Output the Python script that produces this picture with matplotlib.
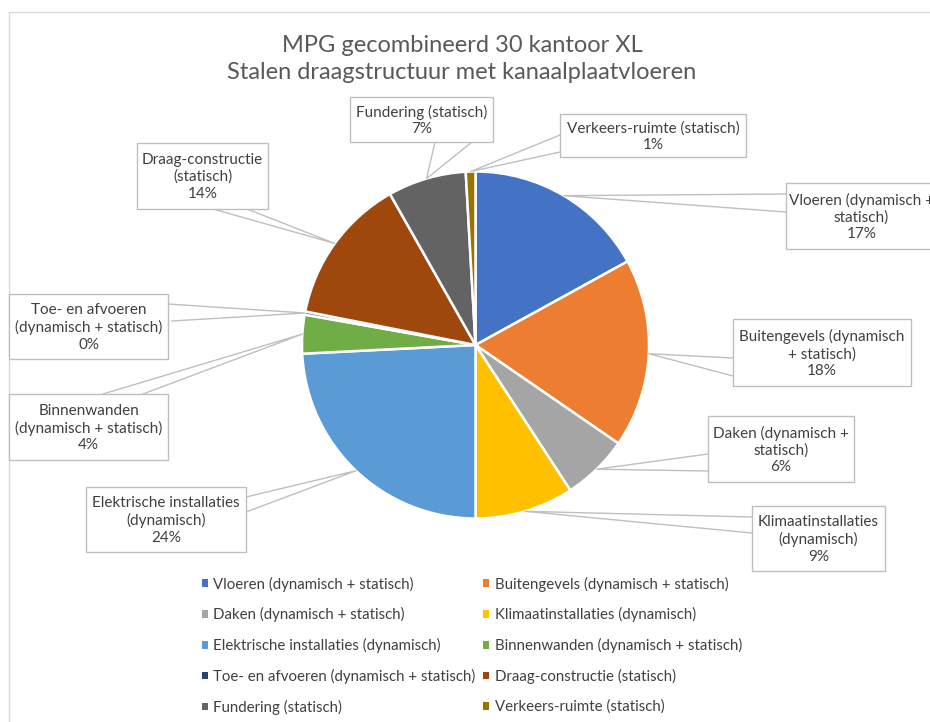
import numpy as np
import matplotlib
matplotlib.use("Agg")
import matplotlib.pyplot as plt
from matplotlib.patches import Rectangle

plt.rcParams["font.family"] = ["Lato", "DejaVu Sans"]

title = "MPG gecombineerd 30 kantoor XL\nStalen draagstructuur met kanaalplaatvloeren"

categories = [
    "Vloeren (dynamisch + statisch)",
    "Buitengevels (dynamisch + statisch)",
    "Daken (dynamisch + statisch)",
    "Klimaatinstallaties (dynamisch)",
    "Elektrische installaties (dynamisch)",
    "Binnenwanden (dynamisch + statisch)",
    "Toe- en afvoeren (dynamisch + statisch)",
    "Draag-constructie (statisch)",
    "Fundering (statisch)",
    "Verkeers-ruimte (statisch)",
]
# wrapped text as in the data labels
label_text = [
    "Vloeren (dynamisch +\nstatisch)",
    "Buitengevels (dynamisch\n+ statisch)",
    "Daken (dynamisch +\nstatisch)",
    "Klimaatinstallaties\n(dynamisch)",
    "Elektrische installaties\n(dynamisch)",
    "Binnenwanden\n(dynamisch + statisch)",
    "Toe- en afvoeren\n(dynamisch + statisch)",
    "Draag-constructie\n(statisch)",
    "Fundering (statisch)",
    "Verkeers-ruimte (statisch)",
]
shares = [17.0, 17.6, 6.2, 9.2, 24.2, 3.6, 0.3, 13.7, 7.3, 0.9]
colors = ["#4472C4", "#ED7D31", "#A5A5A5", "#FFC000", "#5B9BD5",
          "#70AD47", "#264478", "#9E480E", "#636363", "#997300"]

# label boxes (x0, y0, x1, y1) and callout base points, in pixels
boxes = [
    (786, 183, 937, 249), (733, 319, 911, 386), (708, 416, 854, 482),
    (752, 506, 885, 571), (86, 487, 246, 552), (9, 394, 168, 460),
    (9, 294, 168, 359), (137, 143, 268, 209), (350, 97, 493, 142),
    (560, 114, 746, 157),
]
bases = [
    ((786, 194), (786, 212)), ((733, 358), (733, 376)), ((708, 454), (708, 471)),
    ((752, 517), (752, 533)), ((246, 497), (246, 512)), ((103, 394), (143, 394)),
    ((168, 304), (172, 321)), ((213, 209), (247, 209)), ((435, 142), (472, 142)),
    ((560, 135), (560, 152)),
]

cx, cy, r = 475.5, 345, 173.5
grey = "#404040"

fig = plt.figure(figsize=(9.3, 7.22), dpi=100)
ax = fig.add_axes([0, 0, 1, 1])
wedges, _ = ax.pie(shares, colors=colors, center=(cx, cy), radius=r,
                   startangle=-90, counterclock=True,
                   wedgeprops=dict(edgecolor="white", linewidth=1.8))
ax.set_xlim(0, 930)
ax.set_ylim(722, 0)
ax.set_aspect("equal")
ax.axis("off")

# chart frame
ax.add_patch(Rectangle((9, 12), 940, 740, fill=False, edgecolor="#D9D9D9", lw=1))

ax.text(462, 59, title, ha="center", va="center", fontsize=17,
        color="#595959", linespacing=1.38)

for w, txt, val, box, (b1, b2) in zip(wedges, label_text, shares, boxes, bases):
    mid = np.deg2rad((w.theta1 + w.theta2) / 2)
    px, py = cx + r * np.cos(mid), cy + r * np.sin(mid)
    ax.plot([b1[0], px, b2[0]], [b1[1], py, b2[1]], color="#BFBFBF", lw=1, zorder=3)
    x0, y0, x1, y1 = box
    ax.add_patch(Rectangle((x0, y0), x1 - x0 + 10, y1 - y0, facecolor="white",
                           edgecolor="#BFBFBF", lw=1, zorder=4) if x1 > 930 else
                 Rectangle((x0, y0), x1 - x0, y1 - y0, facecolor="white",
                           edgecolor="#BFBFBF", lw=1, zorder=4))
    ax.text((x0 + x1) / 2, (y0 + y1) / 2 + 1,
            f"{txt}\n{round(val):.0f}%", ha="center", va="center",
            fontsize=11, color=grey, linespacing=1.25, zorder=5)

order = [0, 2, 4, 6, 8, 1, 3, 5, 7, 9]
ax.legend([wedges[i] for i in order], [categories[i] for i in order],
          ncol=2, loc="upper left", bbox_to_anchor=(188 / 930, 1 - 563 / 722),
          frameon=False, fontsize=10.8, labelcolor=grey,
          handlelength=0.4, handleheight=0.4, handletextpad=0.35,
          labelspacing=1.05, columnspacing=0.55)
for h in ax.get_legend().legend_handles:
    h.set_edgecolor("none")

fig.savefig("out.png", dpi=100)
